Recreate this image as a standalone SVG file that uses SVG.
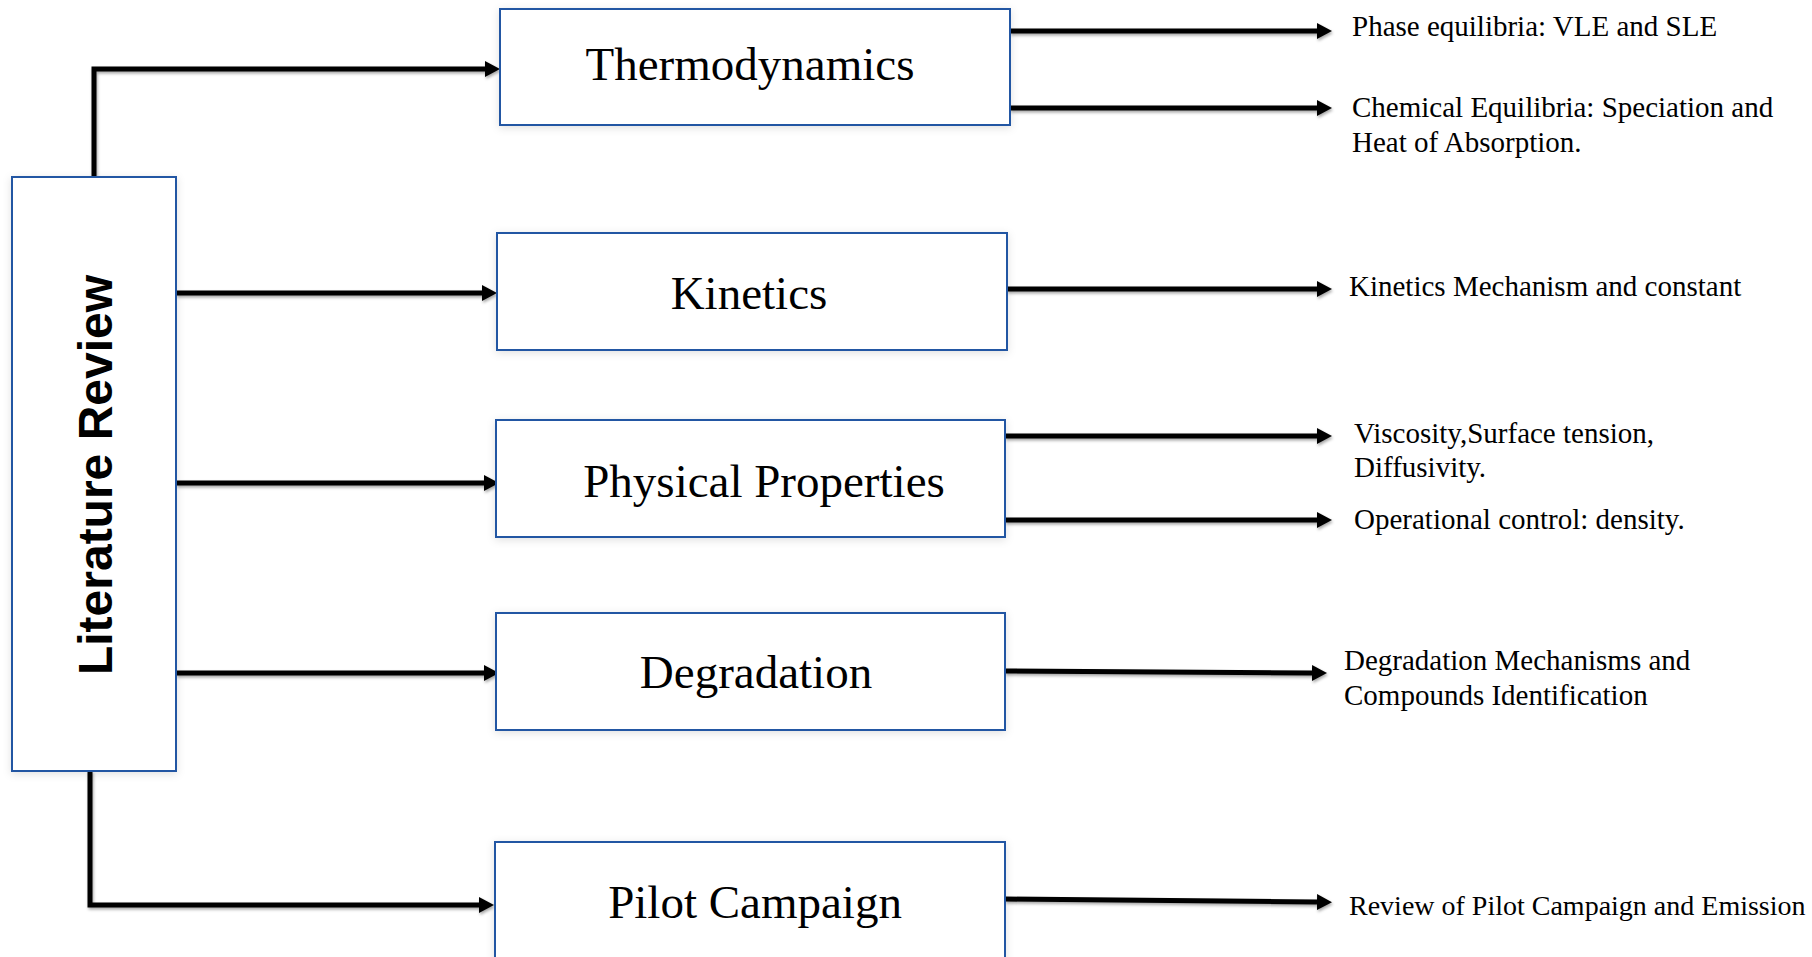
<svg xmlns="http://www.w3.org/2000/svg" width="1812" height="957" viewBox="0 0 1812 957">
<style>
.box{fill:#ffffff;stroke:#2356a3;stroke-width:2;filter:url(#glow)}
.main{font-family:"Liberation Serif","Times New Roman",serif;font-size:47px;fill:#000;text-anchor:middle}
.lbl{font-family:"Liberation Serif","Times New Roman",serif;font-size:29px;fill:#000}
.lit{font-family:"Liberation Sans",Arial,sans-serif;font-weight:bold;font-size:48px;fill:#000;text-anchor:middle}
.con{fill:none;stroke:#000;stroke-width:5;filter:url(#shadow)}
.arr{marker-end:url(#ah)}
</style>
<defs>
<filter id="glow" x="-5%" y="-10%" width="110%" height="125%">
<feDropShadow dx="0" dy="2" stdDeviation="4" flood-color="#000" flood-opacity="0.12"/>
</filter>
<filter id="shadow" filterUnits="userSpaceOnUse" x="0" y="0" width="1812" height="957">
<feDropShadow dx="1" dy="2" stdDeviation="1.5" flood-color="#000" flood-opacity="0.35"/>
</filter>
<marker id="ah" viewBox="0 0 15 16" refX="0" refY="8" markerWidth="15" markerHeight="16" markerUnits="userSpaceOnUse" orient="auto">
<path d="M0,0 L15,8 L0,16 z" fill="#000"/>
</marker>
</defs>
<rect width="1812" height="957" fill="#ffffff"/>
<g id="connectors">
<path class="con arr" d="M94,177 V69 H485"/>
<path class="con arr" d="M176,293 H482"/>
<path class="con arr" d="M176,483 H484"/>
<path class="con arr" d="M176,673 H484"/>
<path class="con arr" d="M90,771 V905 H479"/>
<path class="con arr" d="M1010,31 H1317"/>
<path class="con arr" d="M1010,108 H1317"/>
<path class="con arr" d="M1007,289 H1317"/>
<path class="con arr" d="M1005,436 H1317"/>
<path class="con arr" d="M1005,520 H1317"/>
<path class="con arr" d="M1005,671 L1312,673"/>
<path class="con arr" d="M1005,899 L1317,902"/>
</g>
<g id="literature-review">
<rect class="box" x="12" y="177" width="164" height="594"/>
<text class="lit" transform="translate(112,475) rotate(-90)">Literature Review</text>
</g>
<g id="thermodynamics">
<rect class="box" x="500" y="9" width="510" height="116"/>
<text class="main" x="750" y="80">Thermodynamics</text>
</g>
<g id="kinetics">
<rect class="box" x="497" y="233" width="510" height="117"/>
<text class="main" x="749" y="309">Kinetics</text>
</g>
<g id="physical-properties">
<rect class="box" x="496" y="420" width="509" height="117"/>
<text class="main" x="764" y="497">Physical Properties</text>
</g>
<g id="degradation">
<rect class="box" x="496" y="613" width="509" height="117"/>
<text class="main" x="756" y="688">Degradation</text>
</g>
<g id="pilot-campaign">
<rect class="box" x="495" y="842" width="510" height="125"/>
<text class="main" x="755" y="918">Pilot Campaign</text>
</g>
<g id="label-phase">
<text class="lbl" x="1352" y="36">Phase equilibria: VLE and SLE</text>
</g>
<g id="label-chemical">
<text class="lbl" x="1352" y="117">Chemical Equilibria: Speciation and</text>
<text class="lbl" x="1352" y="152">Heat of Absorption.</text>
</g>
<g id="label-kinetics">
<text class="lbl" x="1349" y="296">Kinetics Mechanism and constant</text>
</g>
<g id="label-viscosity">
<text class="lbl" x="1354" y="443">Viscosity,Surface tension,</text>
<text class="lbl" x="1354" y="477">Diffusivity.</text>
</g>
<g id="label-operational">
<text class="lbl" x="1354" y="529">Operational control: density.</text>
</g>
<g id="label-degradation">
<text class="lbl" x="1344" y="670">Degradation Mechanisms and</text>
<text class="lbl" x="1344" y="705">Compounds Identification</text>
</g>
<g id="label-review">
<text class="lbl" x="1349" y="915" style="font-size:28px">Review of Pilot Campaign and Emission</text>
</g>
</svg>
